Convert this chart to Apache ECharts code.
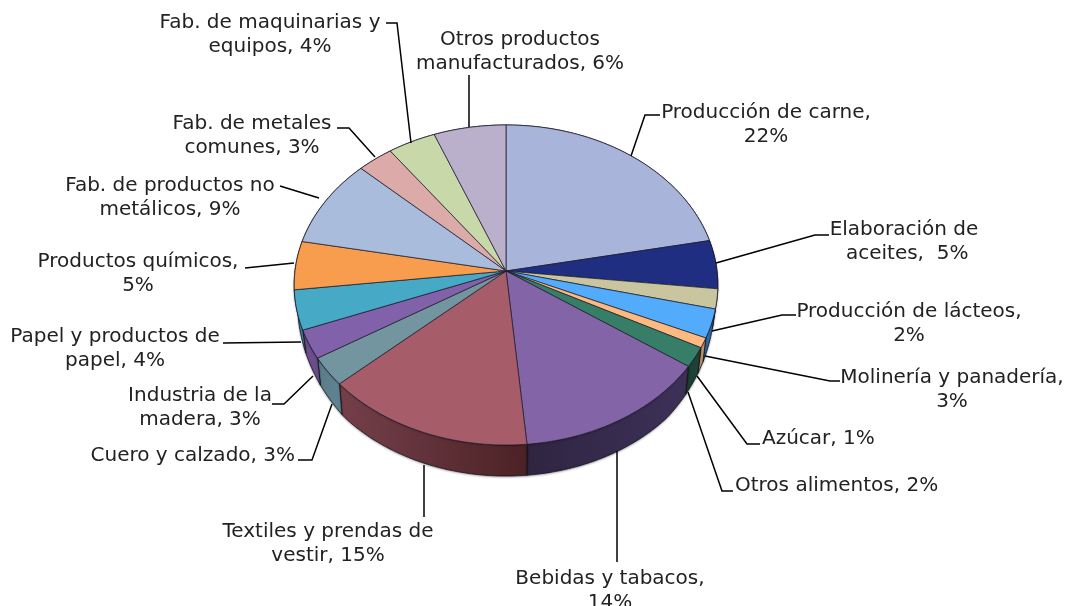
<!DOCTYPE html>
<html><head><meta charset="utf-8">
<style>html,body{margin:0;padding:0;background:#fff}#c{width:1065px;height:606px}</style>
<script src="https://cdn.jsdelivr.net/npm/echarts@6/dist/echarts.min.js"></script>
</head><body><div id="c"></div>
<script>
// Data, clockwise from 12 o'clock
const categories = ['Producción de carne','Elaboración de aceites','Producción de lácteos','Molinería y panadería','Azúcar','Otros alimentos','Bebidas y tabacos','Textiles y prendas de vestir','Cuero y calzado','Industria de la madera','Papel y productos de papel','Productos químicos','Fab. de productos no metálicos','Fab. de metales comunes','Fab. de maquinarias y equipos','Otros productos manufacturados'];
const values = [21.9,4.9,2.0,2.9,1.0,2.0,13.9,14.8,2.9,2.9,4.0,4.9,9.0,3.0,4.0,6.0];
const labelTexts = ['Producción de carne,\n22%','Elaboración de\n aceites,  5%','Producción de lácteos,\n2%','Molinería y panadería,\n3%','Azúcar, 1%','Otros alimentos, 2%','Bebidas y tabacos,\n14%','Textiles y prendas de\nvestir, 15%','Cuero y calzado, 3%','Industria de la\nmadera, 3%','Papel y productos de\npapel, 4%','Productos químicos,\n5%','Fab. de productos no\nmetálicos, 9%','Fab. de metales\ncomunes, 3%','Fab. de maquinarias y\nequipos, 4%','Otros productos\nmanufacturados, 6%'];
const topColors = ['#a9b4da','#1f2e80','#c9c59f','#52abfb','#fdb980','#377e68','#8364a7','#a65c69','#73959f','#8161a9','#46a9c5','#f89d4e','#a9bcdc','#dcaba9','#c8d8a9','#bab0cb'];
const wallLeft = ['#7a83a0','#141d55','#8d8a70','#2d6fae','#c89a6c','#1d3f34','#2f2541','#74404a','#5a7c8a','#6e4f90','#3a8aa4','#b06f35','#7a88a0','#a07a78','#90a078','#857e92'];
const wallRight = ['#7a83a0','#141d55','#8d8a70','#2d6fae','#c89a6c','#1f4437','#3d3158','#4c2226','#5f8492','#6a4c8a','#3a8aa4','#b06f35','#7a88a0','#a07a78','#90a078','#857e92'];
// Label layout: leader polyline and text anchor
const leaders = [
 {pts:[[631,156],[645,115],[660,115]],x:766,y:125,a:'center'},
 {pts:[[716,263],[815,235],[829,235]],x:904,y:242,a:'center'},
 {pts:[[712,331],[782,315],[796,315]],x:909,y:324,a:'center'},
 {pts:[[705,356],[830,381],[840,381]],x:952,y:390,a:'center'},
 {pts:[[697,376],[747,444],[760,444]],x:762,y:439,a:'left'},
 {pts:[[688,392],[722,491],[733,491]],x:735,y:486,a:'left'},
 {pts:[[617,451],[617,562]],x:610,y:591,a:'center'},
 {pts:[[424,465],[424,517]],x:328,y:544,a:'center'},
 {pts:[[332,404],[312,460],[298,460]],x:295,y:456,a:'right'},
 {pts:[[313,376],[284,404],[272,404]],x:200,y:408,a:'center'},
 {pts:[[301,342],[223,343]],x:115,y:349,a:'center'},
 {pts:[[294,263],[245,268]],x:138,y:274,a:'center'},
 {pts:[[319,198],[280,186]],x:170,y:198,a:'center'},
 {pts:[[375,157],[349,128],[337,128]],x:252,y:136,a:'center'},
 {pts:[[411,143],[397,23],[386,23]],x:270,y:35,a:'center'},
 {pts:[[469,127],[469,75]],x:520,y:52,a:'center'}
];
// Perspective geometry of the pie
const CX=506, CY=271, RX=211, RY=158.8, K=0.0875, DEPTH=31;
const total = values.reduce((a,b)=>a+b,0);
function unit(f){const t=f*2*Math.PI;return [Math.sin(t),-Math.cos(t)];}
function topPt(f){const [u,v]=unit(f);const w=1-K*v;return [CX+RX*u/w,CY+RY*v/w];}
function botPt(f){const p=topPt(f);const v=unit(f)[1];
  const h=Math.max(0.1,Math.min(1,0.45+0.8*v));
  return [CX+(p[0]-CX)*0.985,p[1]+DEPTH*h];}
function arc(fn,a,b){const n=Math.max(2,Math.ceil((b-a)*300));const out=[];for(let i=0;i<=n;i++)out.push(fn(a+(b-a)*i/n));return out;}
let acc=0;
const spans = values.map(v=>{const s=acc/total;acc+=v;return [s,acc/total];});
const wallData = spans.map((s,i)=>({value:[s[0],s[1],i]}));
const sliceData = spans.map((s,i)=>({value:[s[0],s[1],i],name:categories[i]}));
const labelData = labelTexts.map((t,i)=>({value:[i],name:t}));

const option = {
 animation:false,
 backgroundColor:'#ffffff',
 series:[
  {type:'custom',coordinateSystem:'none',z:1,silent:true,data:wallData,
   renderItem(p,api){
    const a=api.value(0),b=api.value(1),i=api.value(2);
    const top=arc(topPt,a,b),bot=arc(botPt,a,b).reverse();
    return {type:'polygon',shape:{points:top.concat(bot)},style:{
      fill:{type:'linear',x:0,y:0,x2:1,y2:0,colorStops:[{offset:0,color:wallLeft[i]},{offset:1,color:wallRight[i]}]},
      stroke:'rgba(20,15,25,0.75)',lineWidth:1,shadowBlur:2,shadowOffsetY:1,shadowColor:'rgba(0,0,0,0.3)'}};
   }},
  {type:'custom',coordinateSystem:'none',z:2,silent:true,data:sliceData,
   renderItem(p,api){
    const a=api.value(0),b=api.value(1),i=api.value(2);
    const pts=[[CX,CY]].concat(arc(topPt,a,b));
    return {type:'polygon',shape:{points:pts},style:{fill:topColors[i],stroke:'rgba(25,25,40,0.72)',lineWidth:1}};
   }},
  {type:'custom',coordinateSystem:'none',z:3,silent:true,data:labelData,
   renderItem(p,api){
    const i=api.value(0),L=leaders[i];
    return {type:'group',children:[
     {type:'polyline',shape:{points:L.pts},style:{fill:null,stroke:'#000',lineWidth:1.5}},
     {type:'text',x:L.x,y:L.y,style:{text:labelTexts[i],fill:'#222',font:'20px "DejaVu Sans"',align:L.a,verticalAlign:'middle',lineHeight:24.5}}
    ]};
   }}
 ]
};
const chart = echarts.init(document.getElementById('c'),null,{renderer:'canvas'});
chart.setOption(option);
</script></body></html>
